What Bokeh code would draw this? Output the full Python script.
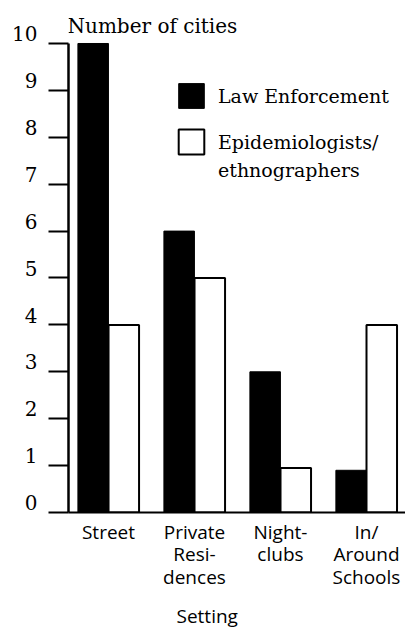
from bokeh.plotting import figure
from bokeh.models import (Range1d, LinearAxis, FixedTicker, Legend, LegendItem,
                          Label, Title, ColumnDataSource)
from bokeh.transform import dodge
from bokeh.embed import file_html
from bokeh.resources import INLINE

# ---- data ----
categories = ["Street", "Private Residences", "Nightclubs", "In/Around Schools"]
category_labels = ["Street", "Private\nResi-\ndences", "Night-\nclubs", "In/\nAround\nSchools"]
law_enforcement = [10, 6, 3, 0.9]
epidemiologists = [4, 5, 0.95, 4]
series_names = ["Law Enforcement", "Epidemiologists/", "ethnographers"]
y_ticks = [0, 1, 2, 3, 4, 5, 6, 7, 8, 9, 10]
y_title = "Number of cities"
x_title = "Setting"

positions = list(range(1, len(categories) + 1))
src = ColumnDataSource(dict(x=positions, law=law_enforcement, epi=epidemiologists))

SERIF = "DejaVu Serif"
SANS = "Open Sans"

x_start, x_end = 0.535, 4.454
y_start, y_end = 0, 10.81
label_shift = 0.21

p = figure(width=405, height=637, output_backend="svg", toolbar_location=None,
           x_range=Range1d(x_start, x_end), y_range=Range1d(y_start, y_end),
           min_border_left=68, min_border_right=0, min_border_top=5,
           min_border_bottom=125)
p.grid.visible = False
p.outline_line_color = None
p.background_fill_color = "white"

bw = 0.355
off = 0.178
r1 = p.vbar(x=dodge("x", -off), top="law", width=bw, source=src,
            fill_color="black", line_color="black", line_width=1)
r2 = p.vbar(x=dodge("x", off), top="epi", width=bw, source=src,
            fill_color="white", line_color="black", line_width=2)
r_blank = p.vbar(x=[], top=[], width=bw, fill_alpha=0, line_alpha=0)

# inner y axis: line and (minor) tick marks only, no labels
ya = p.yaxis[0]
ya.ticker = FixedTicker(ticks=[], minor_ticks=y_ticks)
ya.bounds = (0, 10)
ya.major_tick_line_color = None
ya.minor_tick_out = 20
ya.minor_tick_in = 0
ya.minor_tick_line_width = 2
ya.minor_tick_line_color = "black"
ya.major_label_standoff = 0
ya.axis_line_width = 2.5
ya.axis_line_color = "black"

# outer y axis: labels only, sitting a little above their ticks
p.extra_y_ranges = {"lab": Range1d(y_start - label_shift, y_end - label_shift)}
lab_axis = LinearAxis(y_range_name="lab", ticker=FixedTicker(ticks=y_ticks),
                      axis_line_color=None, major_tick_line_color=None,
                      minor_tick_line_color=None, major_tick_out=0, major_tick_in=0,
                      major_label_standoff=11,
                      major_label_text_font=SERIF,
                      major_label_text_font_size="20px",
                      major_label_text_color="black")
p.add_layout(lab_axis, "left")

# x axis
xa = p.xaxis[0]
xa.ticker = FixedTicker(ticks=positions)
xa.major_label_overrides = {pos: lab for pos, lab in zip(positions, category_labels)}
xa.major_tick_line_color = None
xa.minor_tick_line_color = None
xa.axis_line_width = 2
xa.axis_line_color = "black"
xa.major_label_text_font = SANS
xa.major_label_text_font_size = "19px"
xa.major_label_text_line_height = 0.87
xa.major_label_text_color = "black"
xa.major_label_standoff = 0

p.add_layout(Title(text=x_title, align="left", offset=108, standoff=17,
                   text_font=SANS, text_font_size="19px",
                   text_font_style="normal", text_color="black"), "below")

p.add_layout(Label(x=x_start, y=10, text=y_title, text_font=SERIF,
                   text_font_size="20px", text_baseline="alphabetic",
                   text_color="black", x_offset=-1, y_offset=17))

legend1 = Legend(items=[LegendItem(label=series_names[0], renderers=[r1]),
                        LegendItem(label=series_names[1], renderers=[r2])],
                 location=(107, 355), orientation="vertical",
                 glyph_width=32, glyph_height=31, spacing=15, padding=0, margin=0,
                 label_standoff=11, border_line_color=None,
                 background_fill_alpha=0,
                 label_text_font=SERIF, label_text_font_size="19px",
                 label_text_color="black")
legend2 = Legend(items=[LegendItem(label=series_names[2], renderers=[r_blank])],
                 location=(107, 331), orientation="vertical",
                 glyph_width=32, glyph_height=22, label_height=22, spacing=0,
                 padding=0, margin=0,
                 label_standoff=11, border_line_color=None,
                 background_fill_alpha=0,
                 label_text_font=SERIF, label_text_font_size="19px",
                 label_text_color="black")
p.add_layout(legend1)
p.add_layout(legend2)

open("out.html", "w").write(file_html(p, INLINE))
